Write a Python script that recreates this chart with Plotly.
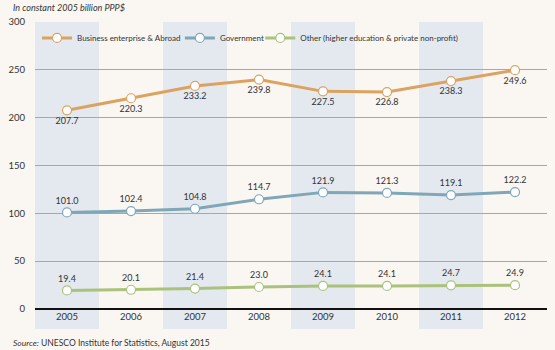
import plotly.graph_objects as go

years = ["2005", "2006", "2007", "2008", "2009", "2010", "2011", "2012"]
business = [207.7, 220.3, 233.2, 239.8, 227.5, 226.8, 238.3, 249.6]
government = [101.0, 102.4, 104.8, 114.7, 121.9, 121.3, 119.1, 122.2]
other = [19.4, 20.1, 21.4, 23.0, 24.1, 24.1, 24.7, 24.9]
y_ticks = [0, 50, 100, 150, 200, 250, 300]

FONT = "Lato"
fig = go.Figure()

series = [
    ("Business enterprise & Abroad", business, "#dba260", "bottom center", "legend", 0.004),
    ("Government", government, "#7fa7b8", "top center", "legend2", 0.283),
    ("Other (higher education & private non-profit)", other, "#abc27c", "top center", "legend3", 0.44),
]
legends = {}
for name, vals, col, pos, lg, lx in series:
    fig.add_trace(go.Scatter(
        x=years, y=vals, name=name, mode="lines+markers+text",
        line=dict(color=col, width=3),
        marker=dict(size=9, color="white", line=dict(color=col, width=1.2)),
        text=[f"{v:.1f}" for v in vals], textposition=pos,
        textfont=dict(family=FONT, size=9, color="#333333"),
        legend=lg,
    ))
    legends[lg] = dict(orientation="h", x=lx, y=0.995, xanchor="left", yanchor="top",
                       bgcolor="rgba(0,0,0,0)", font=dict(size=8, family=FONT, color="#333333"),
                       itemwidth=30)

shapes = []
for i in range(0, len(years), 2):
    shapes.append(dict(type="rect", xref="x", yref="paper",
                       x0=i - 0.5, x1=i + 0.5, y0=-0.07, y1=1.0,
                       fillcolor="#e4e9ef", line=dict(width=0), layer="below"))

fig.update_layout(
    width=555, height=350,
    margin=dict(l=31, r=8, t=22, b=41),
    paper_bgcolor="#faf6f1", plot_bgcolor="rgba(0,0,0,0)",
    font=dict(family=FONT, size=9, color="#333333"),
    shapes=shapes,
    showlegend=True,
    legend=legends["legend"], legend2=legends["legend2"], legend3=legends["legend3"],
    xaxis=dict(type="category", range=[-0.5, 7.5], showgrid=False,
               showline=False, ticks="", tickfont=dict(size=9.5), fixedrange=True),
    yaxis=dict(range=[0, 300], tickvals=y_ticks, showgrid=True,
               gridcolor="#a8a8a8", gridwidth=1, zeroline=True,
               zerolinecolor="#111111", zerolinewidth=1.5,
               ticks="", tickfont=dict(size=9.5), ticklabelstandoff=9),
    annotations=[
        dict(text="<i>In constant 2005 billion PPP$</i>", xref="paper", yref="paper",
             x=-0.046, y=1.0, xanchor="left", yanchor="bottom", yshift=7,
             showarrow=False, font=dict(size=9, family=FONT, color="#333333")),
        dict(text="<i>Source:</i> UNESCO Institute for Statistics, August 2015",
             xref="paper", yref="paper", x=-0.046, y=-0.118, xanchor="left",
             yanchor="middle", showarrow=False,
             font=dict(size=8.5, family=FONT, color="#333333")),
    ],
)
fig.write_html("out.html")
